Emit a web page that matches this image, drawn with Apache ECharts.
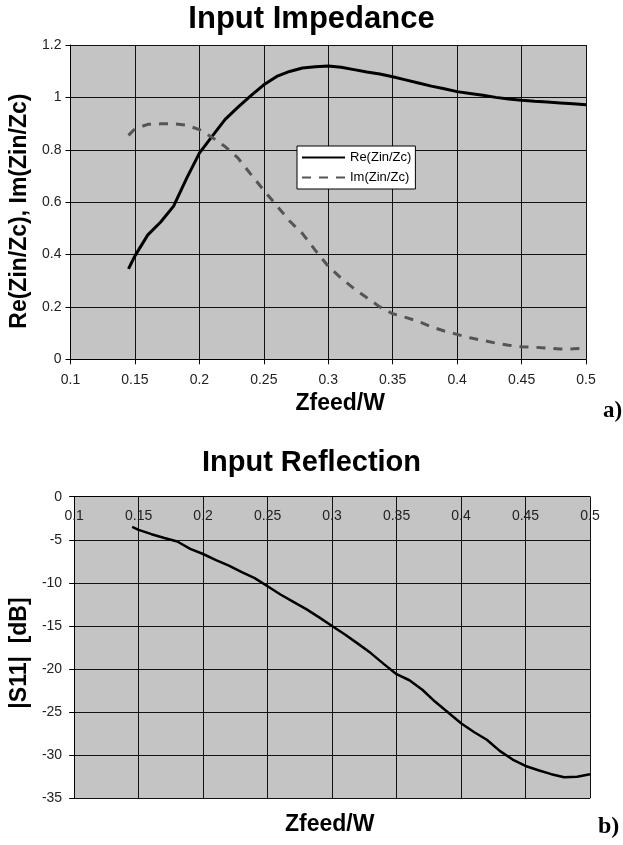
<!DOCTYPE html>
<html>
<head>
<meta charset="utf-8">
<script src="https://cdn.jsdelivr.net/npm/echarts@6/dist/echarts.min.js"></script>
<style>
html,body{margin:0;padding:0;background:#fff;}
#chart{width:623px;height:845px;}
</style>
</head>
<body>
<div id="chart"></div>
<script>
// ---- data ----
const zfeed = [0.145, 0.15, 0.16, 0.17, 0.18, 0.19, 0.20, 0.21, 0.22, 0.23, 0.24, 0.25, 0.26, 0.27, 0.28, 0.29, 0.30,
  0.31, 0.32, 0.33, 0.34, 0.35, 0.36, 0.37, 0.38, 0.39, 0.40, 0.41, 0.42, 0.43, 0.44, 0.45, 0.46, 0.47, 0.48, 0.49, 0.50];
const reZ = [0.345, 0.395, 0.475, 0.524, 0.585, 0.69, 0.787, 0.852, 0.916, 0.963, 1.007, 1.048, 1.08, 1.099, 1.112, 1.117, 1.12,
  1.115, 1.106, 1.097, 1.089, 1.079, 1.067, 1.055, 1.043, 1.033, 1.022, 1.015, 1.008, 1.0, 0.994, 0.989, 0.985, 0.982, 0.979, 0.976, 0.972];
const imZ = [0.855, 0.88, 0.897, 0.899, 0.899, 0.894, 0.877, 0.847, 0.812, 0.768, 0.706, 0.645, 0.587, 0.528, 0.48, 0.416, 0.355,
  0.31, 0.27, 0.235, 0.2, 0.174, 0.16, 0.145, 0.124, 0.108, 0.095, 0.082, 0.072, 0.062, 0.054, 0.048, 0.046, 0.043, 0.039, 0.04, 0.042];
const s11 = [-3.5, -3.85, -4.35, -4.8, -5.2, -6.05, -6.65, -7.35, -8.0, -8.75, -9.45, -10.4, -11.35, -12.2, -13.05, -14.0, -15.0,
  -16.0, -17.05, -18.15, -19.4, -20.6, -21.3, -22.4, -23.8, -25.05, -26.3, -27.3, -28.2, -29.5, -30.5, -31.25, -31.75, -32.2, -32.55, -32.5, -32.2];

const xTickLabels = ['0.1', '0.15', '0.2', '0.25', '0.3', '0.35', '0.4', '0.45', '0.5'];
const impTickLabels = ['0', '0.2', '0.4', '0.6', '0.8', '1', '1.2'];
const s11TickLabels = ['-35', '-30', '-25', '-20', '-15', '-10', '-5', '0'];
const seriesNames = ['Re(Zin/Zc)', 'Im(Zin/Zc)', '|S11|'];

const FONT = 'Liberation Sans';
const labelStyle = {fontFamily: FONT, fontSize: 14, color: '#222'};
const nameStyle = {fontFamily: FONT, fontSize: 23, fontWeight: 'bold', color: '#000'};
const gridLine = {show: true, lineStyle: {color: '#111', width: 1}};

const chart = echarts.init(document.getElementById('chart'), null, {renderer: 'canvas'});
chart.setOption({
  animation: false,
  backgroundColor: '#fff',
  title: [
    {text: 'Input Impedance', left: 'center', top: 4, padding: 0,
     textStyle: {fontFamily: FONT, fontSize: 31, fontWeight: 'bold', color: '#000'}},
    {text: 'Input Reflection', left: 'center', top: 448, padding: 0,
     textStyle: {fontFamily: FONT, fontSize: 29, fontWeight: 'bold', color: '#000'}}
  ],
  legend: {
    data: [seriesNames[0], seriesNames[1]],
    left: 297, top: 146, orient: 'vertical',
    padding: [5, 4, 5, 4],
    itemWidth: 43, itemHeight: 14, itemGap: 7,
    itemStyle: {opacity: 0},
    backgroundColor: '#fff', borderColor: '#000', borderWidth: 1, borderRadius: 0,
    textStyle: {fontFamily: FONT, fontSize: 13, color: '#000'}
  },
  grid: [
    {left: 70.5, top: 45, right: 37, height: 314.3, show: true, backgroundColor: '#c4c4c4', borderWidth: 0},
    {left: 65, top: 496.7, right: 33, height: 301.6, show: true, backgroundColor: '#c4c4c4', borderWidth: 0}
  ],
  xAxis: [
    {type: 'value', gridIndex: 0, min: 0.1, max: 0.5, interval: 0.05,
     axisLine: {show: true, lineStyle: {color: '#000', width: 1}},
     axisTick: {show: true, length: 5, lineStyle: {color: '#000'}},
     axisLabel: {...labelStyle, margin: 14, formatter: v => xTickLabels[Math.round((v - 0.1) / 0.05)]},
     splitLine: gridLine,
     name: 'Zfeed/W', nameLocation: 'middle', nameGap: 33,
     nameTextStyle: {...nameStyle, padding: [0, 0, 0, 24]}},
    {type: 'value', gridIndex: 1, min: 0.1, max: 0.5, interval: 0.05, position: 'top',
     axisLine: {show: true, onZero: false, lineStyle: {color: '#000', width: 1}},
     axisTick: {show: false},
     axisLabel: {...labelStyle, inside: true, margin: 12, formatter: v => xTickLabels[Math.round((v - 0.1) / 0.05)]},
     splitLine: gridLine}
  ],
  yAxis: [
    {type: 'value', gridIndex: 0, min: 0, max: 1.2, interval: 0.2,
     axisLine: {show: true, lineStyle: {color: '#000', width: 1}},
     axisTick: {show: true, length: 5, lineStyle: {color: '#000'}},
     axisLabel: {...labelStyle, margin: 9, formatter: v => impTickLabels[Math.round(v / 0.2)]},
     splitLine: gridLine,
     name: 'Re(Zin/Zc), Im(Zin/Zc)', nameLocation: 'middle', nameGap: 37,
     nameTextStyle: {...nameStyle, padding: [0, 18, 0, 0]}},
    {type: 'value', gridIndex: 1, min: -35, max: 0, interval: 5,
     axisLine: {show: true, lineStyle: {color: '#000', width: 1}},
     axisTick: {show: true, length: 5, lineStyle: {color: '#000'}},
     axisLabel: {...labelStyle, margin: 12, formatter: v => s11TickLabels[Math.round((v + 35) / 5)]},
     splitLine: gridLine,
     name: '|S11|  [dB]', nameLocation: 'middle', nameGap: 35,
     nameTextStyle: {...nameStyle, padding: [0, 11, 0, 0]}}
  ],
  series: [
    {name: seriesNames[0], type: 'line', xAxisIndex: 0, yAxisIndex: 0, symbol: 'none',
     data: zfeed.map((x, i) => [x, reZ[i]]),
     lineStyle: {color: '#000', width: 3}, itemStyle: {color: '#000'}},
    {name: seriesNames[1], type: 'line', xAxisIndex: 0, yAxisIndex: 0, symbol: 'none',
     data: zfeed.map((x, i) => [x, imZ[i]]),
     lineStyle: {color: '#555', width: 3, type: [9, 8]}, itemStyle: {color: '#555'}},
    {name: seriesNames[2], type: 'line', xAxisIndex: 1, yAxisIndex: 1, symbol: 'none',
     data: zfeed.map((x, i) => [x, s11[i]]),
     lineStyle: {color: '#000', width: 2.5}, itemStyle: {color: '#000'}}
  ],
  graphic: [
    {type: 'text', left: 603, top: 400, style: {text: 'a)', fontFamily: 'Liberation Serif', fontSize: 23, fontWeight: 'bold', fill: '#000'}},
    {type: 'text', left: 598, top: 815, style: {text: 'b)', fontFamily: 'Liberation Serif', fontSize: 24, fontWeight: 'bold', fill: '#000'}},
    {type: 'text', left: 285, top: 813, style: {text: 'Zfeed/W', fontFamily: FONT, fontSize: 23, fontWeight: 'bold', fill: '#000'}}
  ]
});
</script>
</body>
</html>
